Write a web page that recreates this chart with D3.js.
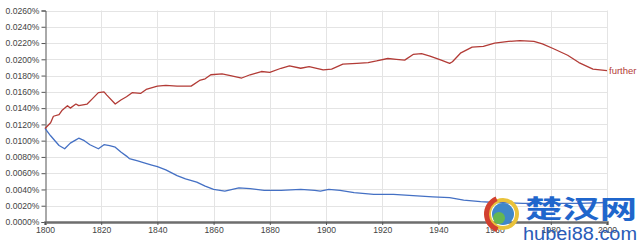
<!DOCTYPE html>
<html>
<head>
<meta charset="utf-8">
<script src="https://cdn.jsdelivr.net/npm/d3@7"></script>
<style>
  html, body { margin: 0; padding: 0; background: #fff; }
  svg { display: block; font-family: Arial, "Liberation Sans", sans-serif; }
</style>
</head>
<body>
<div id="chart"></div>
<script>
// years and values (in percent)
const furtherYears = [1800, 1802, 1803, 1805, 1806, 1808, 1809, 1811, 1812, 1815, 1817, 1819, 1821, 1822, 1825,
  1827, 1829, 1831, 1834, 1836, 1840, 1843, 1847, 1852, 1855, 1857, 1859, 1863, 1866, 1870, 1873, 1877, 1880,
  1884, 1887, 1891, 1894, 1899, 1902, 1906, 1911, 1915, 1918, 1922, 1925, 1928, 1931, 1934, 1937, 1941, 1944,
  1945, 1948, 1952, 1956, 1960, 1965, 1969, 1974, 1977, 1981, 1986, 1990, 1995, 2000];
const furtherValues = [0.0115, 0.0122, 0.0130, 0.0132, 0.0137, 0.0143, 0.0140, 0.0145, 0.0143, 0.0145, 0.0152,
  0.0159, 0.0160, 0.0156, 0.0145, 0.0150, 0.0154, 0.0159, 0.0158, 0.0163, 0.0167, 0.0168, 0.0167, 0.0167,
  0.0174, 0.0176, 0.0181, 0.0182, 0.0180, 0.0177, 0.0181, 0.0185, 0.0184, 0.0189, 0.0192, 0.0189, 0.0191,
  0.0187, 0.0188, 0.0194, 0.0195, 0.0196, 0.0198, 0.0201, 0.0200, 0.0199, 0.0206, 0.0207, 0.0204, 0.0199,
  0.0195, 0.0197, 0.0208, 0.0215, 0.0216, 0.0220, 0.0222, 0.0223, 0.0222, 0.0219, 0.0213, 0.0205, 0.0196,
  0.0188, 0.0186];

const fartherYears = [1800, 1802, 1804, 1805, 1807, 1809, 1811, 1812, 1814, 1816, 1819, 1821, 1823, 1825, 1827,
  1829, 1830, 1833, 1835, 1838, 1840, 1843, 1847, 1850, 1854, 1857, 1860, 1864, 1869, 1873, 1878, 1884, 1891,
  1896, 1898, 1901, 1905, 1910, 1917, 1924, 1931, 1938, 1944, 1949, 1955, 1960, 1970, 1980, 1990, 2000];
const fartherValues = [0.0115, 0.0106, 0.0098, 0.0094, 0.0090, 0.0097, 0.0101, 0.0103, 0.0100, 0.0095, 0.0090,
  0.0095, 0.0094, 0.0092, 0.0086, 0.0081, 0.0078, 0.0075, 0.0073, 0.0070, 0.0068, 0.0064, 0.0057, 0.0053,
  0.0049, 0.0044, 0.0040, 0.0038, 0.0042, 0.0041, 0.0039, 0.0039, 0.0040, 0.0039, 0.0038, 0.0040, 0.0039,
  0.0036, 0.0034, 0.0034, 0.00325, 0.0031, 0.0030, 0.0027, 0.0025, 0.0024, 0.0023, 0.0023, 0.0023, 0.0024];

const xTicks = [1800, 1820, 1840, 1860, 1880, 1900, 1920, 1940, 1960, 1980, 2000];
const yTicks = [0, 0.002, 0.004, 0.006, 0.008, 0.010, 0.012, 0.014, 0.016, 0.018, 0.020, 0.022, 0.024, 0.026];
const seriesLabel = 'further';

const width = 640;
const height = 241;
const redColor = '#b23b36';
const blueColor = '#4470c4';

const svg = d3.select('#chart')
  .append('svg')
  .attr('width', width)
  .attr('height', height);

const x = d3.scaleLinear().domain([1800, 2000]).range([45, 607]);
const y = d3.scaleLinear().domain([0, 0.026]).range([222, 10.5]);

// grid
svg.append('g')
  .selectAll('line')
  .data(yTicks)
  .join('line')
  .attr('x1', x(1800)).attr('x2', x(2000))
  .attr('y1', d => Math.round(y(d)) + 0.5).attr('y2', d => Math.round(y(d)) + 0.5)
  .attr('stroke', '#e4e4e4');

svg.append('g')
  .selectAll('line')
  .data(xTicks.slice(1))
  .join('line')
  .attr('x1', d => Math.round(x(d)) + 0.5).attr('x2', d => Math.round(x(d)) + 0.5)
  .attr('y1', y(0.026)).attr('y2', y(0))
  .attr('stroke', '#e4e4e4');

// y axis
const yAxis = svg.append('g')
  .attr('transform', 'translate(45.5,0)')
  .call(d3.axisLeft(y).tickValues(yTicks).tickSize(4).tickPadding(2)
    .tickFormat(d => d3.format('.4f')(d) + '%'));
yAxis.select('.domain').attr('stroke', '#555');
yAxis.selectAll('.tick line').attr('stroke', '#555');
yAxis.selectAll('text').attr('fill', '#444').style('font-size', '8.6px').style('font-family', 'Arial, "Liberation Sans", sans-serif');

// x axis
const xAxis = svg.append('g')
  .attr('transform', `translate(0,${y(0)})`)
  .call(d3.axisBottom(x).tickValues(xTicks).tickSize(3).tickPadding(2).tickFormat(d3.format('d')));
xAxis.select('.domain').attr('stroke', '#6e6e6e').attr('stroke-width', 2.5);
xAxis.selectAll('.tick line').attr('stroke', '#555');
xAxis.selectAll('text').attr('fill', '#444').style('font-size', '8.6px').style('font-family', 'Arial, "Liberation Sans", sans-serif');

// lines
const line = d3.line().x(d => x(d[0])).y(d => y(d[1]));

svg.append('path')
  .datum(fartherYears.map((yr, i) => [yr, fartherValues[i]]))
  .attr('fill', 'none')
  .attr('stroke', blueColor)
  .attr('stroke-width', 1.3)
  .attr('stroke-linejoin', 'round')
  .attr('d', line);

svg.append('path')
  .datum(furtherYears.map((yr, i) => [yr, furtherValues[i]]))
  .attr('fill', 'none')
  .attr('stroke', redColor)
  .attr('stroke-width', 1.3)
  .attr('stroke-linejoin', 'round')
  .attr('d', line);

svg.append('text')
  .attr('x', x(2000) + 2)
  .attr('y', y(furtherValues[furtherValues.length - 1]) + 3)
  .attr('fill', redColor)
  .style('font-size', '9.5px')
  .text(seriesLabel);

// watermark (site logo over the lower right corner)
const wm = svg.append('g');
wm.append('circle').attr('cx', 503).attr('cy', 214).attr('r', 14)
  .attr('fill', 'none').attr('stroke', '#e9c23a').attr('stroke-width', 4);
wm.append('path')
  .attr('d', d3.arc()({ innerRadius: 14, outerRadius: 19, startAngle: -2.8, endAngle: -0.4 }))
  .attr('transform', 'translate(503,214)')
  .attr('fill', '#d2402f');
wm.append('circle').attr('cx', 503).attr('cy', 214).attr('r', 11)
  .attr('fill', '#3f87c8');
wm.append('circle').attr('cx', 499).attr('cy', 218).attr('r', 6)
  .attr('fill', '#6cbf3c').attr('opacity', 0.85);
wm.append('text')
  .attr('x', 525).attr('y', 218)
  .attr('textLength', 112)
  .attr('lengthAdjust', 'spacingAndGlyphs')
  .attr('fill', '#1f66cc')
  .style('font-family', '"Noto Sans CJK SC", sans-serif')
  .style('font-weight', 'bold')
  .style('font-size', '25px')
  .text('楚汉网');
wm.append('text')
  .attr('x', 523).attr('y', 240)
  .attr('textLength', 114)
  .attr('lengthAdjust', 'spacingAndGlyphs')
  .attr('fill', '#2a5cb8')
  .style('font-size', '18px')
  .text('hubei88.com');
</script>
</body>
</html>
